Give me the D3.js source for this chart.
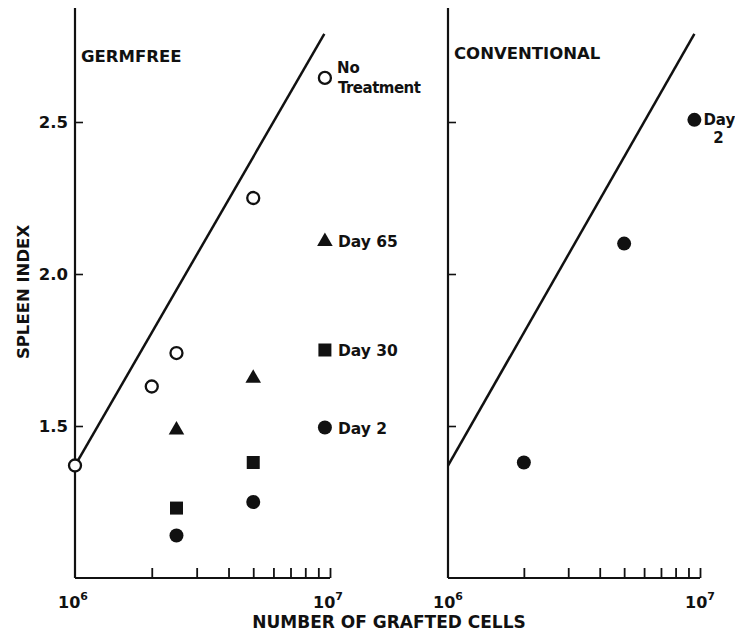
<!DOCTYPE html>
<html>
<head>
<meta charset="utf-8">
<script src="https://cdn.jsdelivr.net/npm/d3@7"></script>
<style>
  html, body { margin: 0; padding: 0; background: #fff; }
  svg { display: block; }
  text { font-family: "DejaVu Sans", sans-serif; font-weight: bold; fill: #111; }
</style>
</head>
<body>
<svg id="chart" width="735" height="633"></svg>
<script>
// Spleen index vs. number of grafted cells (log scale), two host conditions
const panelTitles = ["GERMFREE", "CONVENTIONAL"];
const xTickValues = [1e6, 2e6, 3e6, 4e6, 5e6, 6e6, 7e6, 8e6, 9e6, 1e7];
const xTickLabels = [{ value: 1e6, base: "10", exp: "6" }, { value: 1e7, base: "10", exp: "7" }];
const yTickValues = [1.5, 2.0, 2.5];
const yTickLabels = ["1.5", "2.0", "2.5"];

// cells grafted, spleen index
const germfreeNoTreatment = [[1e6, 1.37], [2e6, 1.63], [2.5e6, 1.74], [5e6, 2.25]];
const germfreeDay65 = [[2.5e6, 1.49], [5e6, 1.66]];
const germfreeDay30 = [[2.5e6, 1.23], [5e6, 1.38]];
const germfreeDay2 = [[2.5e6, 1.14], [5e6, 1.25]];
const conventionalDay2 = [[2e6, 1.38], [5e6, 2.10]];

// untreated reference line, drawn in both panels
const referenceLine = [[1e6, 1.37], [9.5e6, 2.79]];

const germfreeKey = [
  { symbol: "open", lines: ["No", "Treatment"] },
  { symbol: "triangle", lines: ["Day 65"] },
  { symbol: "square", lines: ["Day 30"] },
  { symbol: "circle", lines: ["Day 2"] }
];
const conventionalKey = [{ symbol: "circle", lines: ["Day", "2"] }];

const svg = d3.select("#chart");
const ink = "#111";

const y = d3.scaleLinear().domain([1.0, 2.5]).range([578, 122]);
const yTop = 2.875;

const panels = [
  { x: d3.scaleLog().domain([1e6, 1e7]).range([75, 330]), title: panelTitles[0], titleY: 62, showYLabels: true },
  { x: d3.scaleLog().domain([1e6, 1e7]).range([448, 700]), title: panelTitles[1], titleY: 59, showYLabels: false }
];

function drawMarker(g, kind, cx, cy) {
  if (kind === "open") {
    g.append("circle").attr("cx", cx).attr("cy", cy).attr("r", 6)
      .attr("fill", "#fff").attr("stroke", ink).attr("stroke-width", 2.3);
  } else if (kind === "circle") {
    g.append("circle").attr("cx", cx).attr("cy", cy).attr("r", 7).attr("fill", ink);
  } else if (kind === "square") {
    g.append("path").attr("d", d3.symbol(d3.symbolSquare, 169)())
      .attr("transform", `translate(${cx},${cy})`).attr("fill", ink);
  } else if (kind === "triangle") {
    g.append("path").attr("d", d3.symbol(d3.symbolTriangle, 105)())
      .attr("transform", `translate(${cx},${cy + 1})`).attr("fill", ink);
  }
}

panels.forEach(p => {
  const g = svg.append("g");
  const x = p.x;
  const [x0, x1] = x.range();

  // axes
  g.append("line").attr("x1", x0).attr("x2", x0).attr("y1", y(yTop)).attr("y2", y(1.0))
    .attr("stroke", ink).attr("stroke-width", 2.2);
  g.append("line").attr("x1", x0).attr("x2", x1).attr("y1", y(1.0)).attr("y2", y(1.0))
    .attr("stroke", ink).attr("stroke-width", 2.2);

  const xAxis = d3.axisTop(x).tickValues(xTickValues.slice(1)).tickSize(10).tickFormat("");
  const xg = g.append("g").attr("transform", `translate(0,${y(1.0)})`).call(xAxis);
  xg.select(".domain").remove();
  xg.selectAll("line").attr("stroke", ink).attr("stroke-width", 1.8);

  const yAxis = d3.axisRight(y).tickValues(yTickValues).tickSize(8).tickFormat("");
  const yg = g.append("g").attr("transform", `translate(${x0},0)`).call(yAxis);
  yg.select(".domain").remove();
  yg.selectAll("line").attr("stroke", ink).attr("stroke-width", 1.6);

  if (p.showYLabels) {
    g.selectAll(".ylab").data(yTickValues).enter().append("text")
      .attr("x", x0 - 7).attr("y", d => y(d) + 6)
      .attr("text-anchor", "end").attr("font-size", 16.5)
      .text((d, i) => yTickLabels[i]);
  }

  // decade labels
  xTickLabels.forEach(t => {
    const tx = g.append("text").attr("x", x(t.value) - (p.showYLabels ? 2 : 0)).attr("y", 608)
      .attr("text-anchor", "middle").attr("font-size", 16);
    tx.append("tspan").text(t.base);
    tx.append("tspan").attr("dy", -8).attr("font-size", 11).text(t.exp);
  });

  g.append("text").attr("x", x0 + 6).attr("y", p.titleY).attr("font-size", 16.5).text(p.title);

  // reference line
  g.append("path").datum(referenceLine)
    .attr("d", d3.line().x(d => x(d[0])).y(d => y(d[1])))
    .attr("fill", "none").attr("stroke", ink).attr("stroke-width", 2.5);
});

// germfree points
const gx = panels[0].x;
const gp = svg.append("g");
germfreeDay2.forEach(d => drawMarker(gp, "circle", gx(d[0]), y(d[1])));
germfreeDay30.forEach(d => drawMarker(gp, "square", gx(d[0]), y(d[1])));
germfreeDay65.forEach(d => drawMarker(gp, "triangle", gx(d[0]), y(d[1])));
germfreeNoTreatment.forEach(d => drawMarker(gp, "open", gx(d[0]), y(d[1])));

// conventional points
const cx = panels[1].x;
const cp = svg.append("g");
conventionalDay2.forEach(d => drawMarker(cp, "circle", cx(d[0]), y(d[1])));

// keys beside the points
const germfreeKeyRows = [2.645, 2.11, 1.75, 1.495];
const gk = svg.append("g");
germfreeKey.forEach((k, i) => {
  const mx = gx(9.55e6), my = y(germfreeKeyRows[i]);
  drawMarker(gk, k.symbol, mx, my);
  if (k.lines.length === 2) {
    gk.append("text").attr("x", mx + 12).attr("y", my - 5).attr("font-size", 15).text(k.lines[0]);
    gk.append("text").attr("x", mx + 13).attr("y", my + 15).attr("font-size", 15)
      .attr("textLength", 83).text(k.lines[1]);
  } else {
    gk.append("text").attr("x", mx + 13).attr("y", my + 6).attr("font-size", 15.5).text(k.lines[0]);
  }
});

const ck = svg.append("g");
conventionalKey.forEach(k => {
  const mx = cx(9.5e6), my = y(2.507);
  drawMarker(ck, k.symbol, mx, my);
  ck.append("text").attr("x", mx + 9).attr("y", my + 5).attr("font-size", 15).text(k.lines[0]);
  ck.append("text").attr("x", mx + 24).attr("y", my + 23).attr("text-anchor", "middle")
    .attr("font-size", 15).text(k.lines[1]);
});

// axis titles
svg.append("text").attr("x", 389).attr("y", 628).attr("text-anchor", "middle")
  .attr("font-size", 17).text("NUMBER OF GRAFTED CELLS");
svg.append("text").attr("transform", "translate(29,292) rotate(-90)").attr("text-anchor", "middle")
  .attr("font-size", 16.5).text("SPLEEN INDEX");
</script>
</body>
</html>
